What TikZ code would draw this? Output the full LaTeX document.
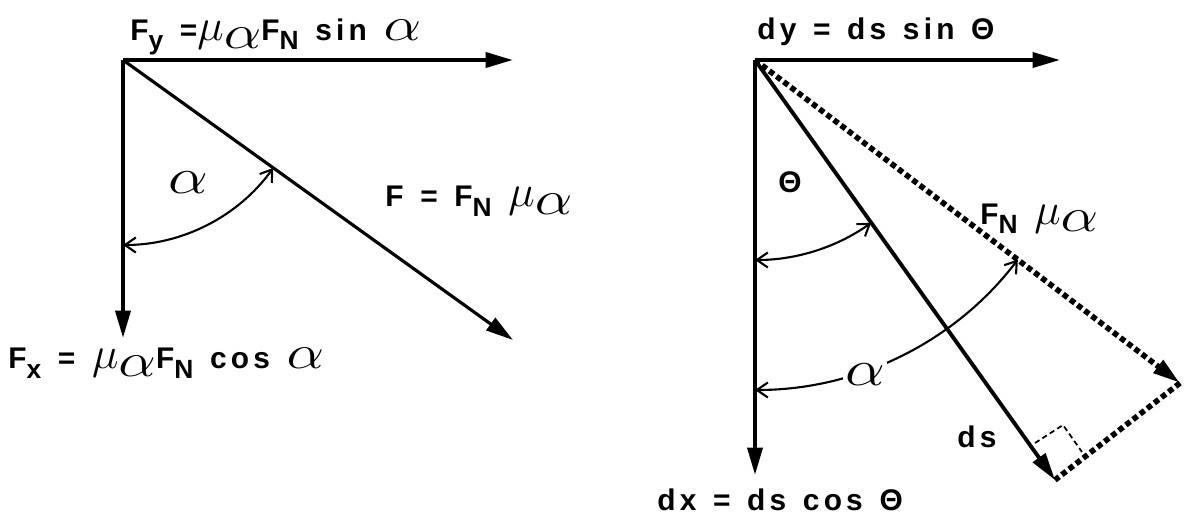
\documentclass[tikz,border=0pt]{standalone}
\usepackage{fix-cm}
\usepackage{fontspec}
\setmainfont{Liberation Sans}
\newfontfamily\lblfont{Liberation Sans}[LetterSpace=14]
\usetikzlibrary{arrows.meta, calc}

\newcommand{\lo}[1]{\raisebox{-0.6ex}{\fontsize{15}{17}\selectfont #1}}
\newcommand{\alp}{\scalebox{2}[1.6]{$\alpha$}}
\newcommand{\mual}{\scalebox{1.5}{$\mu$}\raisebox{-0.5ex}{\alp}}
\newcommand{\widesp}{\spaceskip=9.5pt\relax}

\begin{document}
\begin{tikzpicture}[
    vec/.style={line width=2.2pt, -{Triangle[length=0.55cm, width=0.3cm]}},
    ang/.style={line width=1.2pt,
                {Straight Barb[length=0.22cm, width=0.3cm]}-{Straight Barb[length=0.22cm, width=0.3cm]}},
    dotln/.style={line width=3.2pt, dash pattern=on 0.11cm off 0.07cm},
    lbl/.style={font=\lblfont\fontsize{17}{20}\selectfont\bfseries\widesp, inner sep=0pt},
    glyph/.style={font=\fontsize{18}{22}\selectfont, inner sep=1pt}
  ]
  \useasboundingbox (0,0) rectangle (23.82,10.32);

  % left: F and its components
  \coordinate (o1) at (2.46, 9.12);
  \coordinate (fy) at (10.26, 9.12);
  \coordinate (fx) at (2.46, 3.56);
  \coordinate (f)  at (10.26, 3.52);
  \draw[vec] (o1) -- (fy);
  \draw[vec] (o1) -- (fx);
  \draw[vec, line width=1.8pt] (o1) -- (f);

  \coordinate (a1) at ($(o1)+(0,-3.7)$);
  \draw[ang] (a1) arc[start angle=-90, end angle=-35.7, radius=3.7];
  \node[glyph] (alf1) at (3.76, 6.66) {\alp};

  \node[lbl, anchor=west] (fylbl) at (2.6, 9.58) {F\lo{y} =\mual F\lo{N} sin \alp};
  \node[lbl, anchor=west] (flbl)  at (7.7, 6.3)   {F = F\lo{N} \mual};
  \node[lbl, anchor=west] (fxlbl) at (0.16, 3.06) {F\lo{x} = \mual F\lo{N} cos \alp};

  % right: ds and its components
  \coordinate (o2) at (15.1, 9.12);
  \coordinate (dy) at (21.2, 9.12);
  \coordinate (dx) at (15.1, 0.82);
  \coordinate (ds) at (21.1, 0.72);
  \coordinate (fn) at (23.6, 2.66);
  \draw[vec] (o2) -- (dy);
  \draw[vec] (o2) -- (dx);
  \draw[vec] (o2) -- (ds);
  \draw[dotln, -{Triangle[length=0.55cm, width=0.3cm]}] (o2) -- (fn);
  \draw[dotln] (fn) -- (ds);

  \coordinate (r1) at (20.7, 1.46);
  \coordinate (r2) at (21.26, 1.82);
  \coordinate (r3) at (21.64, 1.28);
  \draw[line width=1pt, dash pattern=on 3pt off 2pt] (r1) -- (r2) -- (r3);

  \coordinate (t1) at ($(o2)+(0,-4)$);
  \draw[ang] (t1) arc[start angle=-90, end angle=-54.5, radius=4];
  \coordinate (a2) at ($(o2)+(0,-6.6)$);
  \draw[ang] (a2) arc[start angle=-90, end angle=-37.2, radius=6.6];
  \node[glyph, fill=white] (alf2) at (17.3, 2.82) {\alp};

  \node[lbl] (thlbl) at (15.8, 6.68) {Θ};
  \node[lbl, anchor=west] (fnlbl) at (19.6, 5.95) {F\lo{N} \mual};
  \node[lbl] (dslbl) at (19.54, 1.58) {ds};
  \node[lbl, anchor=west] (dylbl) at (15.14, 9.68) {dy = ds sin Θ};
  \node[lbl, anchor=west] (dxlbl) at (13.14, 0.32) {dx = ds cos Θ};
\end{tikzpicture}
\end{document}
